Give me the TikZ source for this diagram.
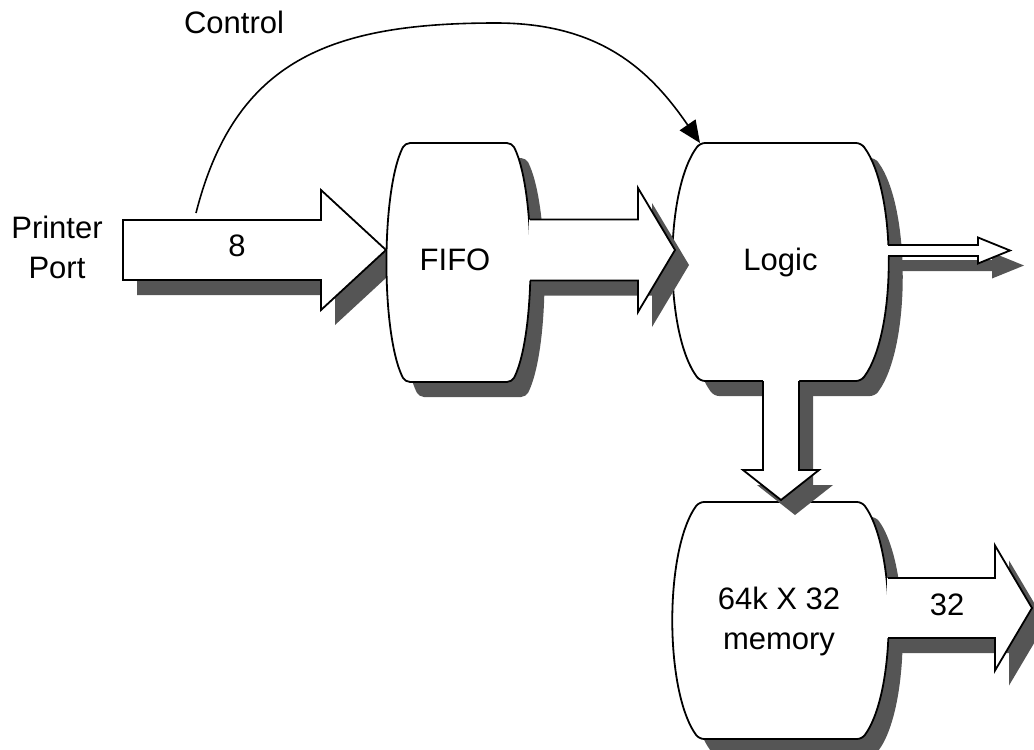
\documentclass[tikz,border=0pt]{standalone}
\usepackage{fontspec}
\setmainfont{Liberation Sans}
\usetikzlibrary{arrows.meta}
\definecolor{shade}{RGB}{85,85,85}

% barrel outline: left, right, top, bottom, corner inset
\newcommand\barrelpath[5]{({(#1+#2)/2},#3) -- ({#2-#5},#3)
  .. controls ({#2+#5/3},{#3+48}) and ({#2+#5/3},{#4-48}) .. ({#2-#5},#4)
  -- ({#1+#5},#4)
  .. controls ({#1-#5/3},{#4-48}) and ({#1-#5/3},{#3+48}) .. ({#1+#5},#3)
  -- cycle}
% horizontal block arrow: start x, head x, tip x, centre y, half body, half head
\newcommand\hpoly[6]{(#1,{#4-#5}) -- (#2,{#4-#5}) -- (#2,{#4-#6}) -- (#3,#4)
  -- (#2,{#4+#6}) -- (#2,{#4+#5}) -- (#1,{#4+#5})}
% vertical block arrow: start y, head y, tip y, centre x, half body, half head
\newcommand\vpoly[6]{({#4-#5},#1) -- ({#4-#5},#2) -- ({#4-#6},#2) -- (#4,#3)
  -- ({#4+#6},#2) -- ({#4+#5},#2) -- ({#4+#5},#1)}

\begin{document}
\begin{tikzpicture}[x=1pt,y=-1pt,line width=1.8pt,
  lbl/.style={font=\fontsize{31}{40}\selectfont,inner sep=0pt,align=center},
  boxline/.style={draw=black,fill=white,rounded corners=5pt},
  arrline/.style={draw=black,line join=miter},
  shadowed/.style={fill=shade,draw=none,shift={(14,15)}}]
\useasboundingbox (0,0) rectangle (1034,750);

% printer port input, 8 bits
\fill[shadowed] \hpoly{123}{321}{386}{250}{30}{60} -- cycle;
\draw[arrline,fill=white] \hpoly{123}{321}{386}{250}{30}{60} -- cycle;

% FIFO
\fill[shadowed,rounded corners=5pt] \barrelpath{387}{530}{143}{382}{18};
\draw[boxline] \barrelpath{387}{530}{143}{382}{18};

% Logic
\fill[shadowed,rounded corners=5pt] \barrelpath{673}{888}{143}{381}{27};
\draw[boxline] \barrelpath{673}{888}{143}{381}{27};

% FIFO to Logic
\fill[shadowed] \hpoly{517.5}{638}{675}{250}{30.5}{62} -- cycle;
\fill[white] \hpoly{529}{638}{675}{250}{30.5}{62} -- cycle;
\draw[arrline] \hpoly{530}{638}{675}{250}{30.5}{62};

% memory
\fill[shadowed,rounded corners=5pt] \barrelpath{673}{888}{502}{739}{26};
\draw[boxline] \barrelpath{673}{888}{502}{739}{26};

% Logic to memory
\fill[shadowed] \vpoly{367.5}{470}{500}{781}{18}{38} -- cycle;
\fill[white] \vpoly{380}{470}{500}{781}{18}{38} -- cycle;
\draw[arrline] \vpoly{381}{470}{500}{781}{18}{38};

% Logic output
\fill[shadowed] \hpoly{875.5}{978}{1010}{250.5}{5.5}{13} -- cycle;
\fill[white] \hpoly{887}{978}{1010}{250.5}{5.5}{13} -- cycle;
\draw[arrline] \hpoly{888}{978}{1010}{250.5}{5.5}{13};

% memory output, 32 bits
\fill[shadowed] \hpoly{875.5}{995}{1032}{608}{30}{62.5} -- cycle;
\fill[white] \hpoly{887}{995}{1032}{608}{30}{62.5} -- cycle;
\draw[arrline] \hpoly{888}{995}{1032}{608}{30}{62.5};

% labels
\node[lbl] (port) at (57,247.5) {Printer\\Port};
\node[lbl,anchor=base] (w8) at (237,256) {8};
\node[lbl,anchor=base] (fifo) at (455,270) {FIFO};
\node[lbl,anchor=base] (logic) at (780.5,270) {Logic};
\node[lbl] (mem) at (779,621.5) {64k X 32\\memory};
\node[lbl,anchor=base] (w32) at (947,615) {32};
\node[lbl,anchor=base] (ctl) at (234,33) {Control};

% control line into Logic
\coordinate (ctlstart) at (196,213);
\coordinate (logiccorner) at (700,143);
\draw[line width=1.6pt,-{Triangle[length=22pt,width=19pt]}]
  (ctlstart) .. controls (235,60) and (330,23) .. (496,23)
  .. controls (600,23) and (650,70) .. (logiccorner);
\end{tikzpicture}
\end{document}
